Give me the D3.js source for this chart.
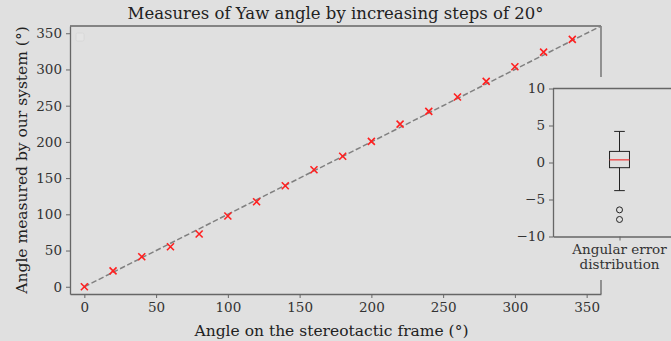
<!DOCTYPE html>
<html>
<head>
<meta charset="utf-8">
<script src="https://cdn.jsdelivr.net/npm/d3@7"></script>
<style>
  body { margin: 0; background: #e0e0e0; }
  svg { display: block; font-family: "DejaVu Serif", serif; }
</style>
</head>
<body>
<div id="chart"></div>
<script>
const width = 671;
const height = 341;

// reference angles on the frame and what our system measured
const frameAngles = [0, 20, 40, 60, 80, 100, 120, 140, 160, 180, 200, 220, 240, 260, 280, 300, 320, 340];
const measuredAngles = [0, 22, 41.5, 55.3, 72.8, 97.7, 117.4, 139.5, 161.6, 180.1, 200.8, 224.5, 242.2, 262, 283.6, 303.8, 324, 341.6];
const idealLine = [0, 360];
const xTicks = [0, 50, 100, 150, 200, 250, 300, 350];
const yTicks = [0, 50, 100, 150, 200, 250, 300, 350];

// boxplot of the angular error
const errWhiskers = [-3.8, 4.2];
const errBox = [-0.7, 1.5];
const errMedian = 0.36;
const errOutliers = [-6.4, -7.7];
const errTicks = [-10, -5, 0, 5, 10];

const svg = d3.select("#chart")
  .append("svg")
  .attr("width", width)
  .attr("height", height);

svg.append("rect").attr("width", width).attr("height", height).attr("fill", "#e0e0e0");

const x = d3.scaleLinear().domain([-10, 360]).range([70, 601]);
const y = d3.scaleLinear().domain([-10, 360]).range([294, 26]);

const spine = "#666";
const txt = "#333";

// main axes
const xAxis = svg.append("g")
  .attr("transform", `translate(0,${y.range()[0]})`)
  .call(d3.axisBottom(x).tickValues(xTicks).tickSize(4).tickPadding(4).tickSizeOuter(0));
const yAxis = svg.append("g")
  .attr("transform", `translate(${x.range()[0]},0)`)
  .call(d3.axisLeft(y).tickValues(yTicks).tickSize(4).tickPadding(4).tickSizeOuter(0));

[xAxis, yAxis].forEach(a => {
  a.select(".domain").attr("stroke", spine).attr("stroke-width", 1.3);
  a.selectAll(".tick line").attr("stroke", spine);
  a.selectAll(".tick text").attr("fill", txt).style("font-size", "13.5px").style("font-family", "DejaVu Serif, serif");
});

// top and right spines
svg.append("line")
  .attr("x1", x(-10)).attr("x2", x(360)).attr("y1", y(360)).attr("y2", y(360))
  .attr("stroke", spine).attr("stroke-width", 1.3);
svg.append("line")
  .attr("x1", x(360)).attr("x2", x(360)).attr("y1", y(-10)).attr("y2", y(360))
  .attr("stroke", spine).attr("stroke-width", 1.3);

// empty legend box
svg.append("rect")
  .attr("x", 76).attr("y", 33).attr("width", 8).attr("height", 8).attr("rx", 1.5)
  .attr("fill", "#e4e4e4").attr("stroke", "#d6d6d6").attr("stroke-width", 0.8);

// ideal line
svg.append("line")
  .attr("x1", x(idealLine[0])).attr("y1", y(idealLine[0]))
  .attr("x2", x(idealLine[1])).attr("y2", y(idealLine[1]))
  .attr("stroke", "#808080").attr("stroke-width", 1.5)
  .attr("stroke-dasharray", "5.5,2.5");

// measured points as x markers
const s = 3.5;
svg.append("g")
  .selectAll("path")
  .data(frameAngles.map((a, i) => [a, measuredAngles[i]]))
  .join("path")
  .attr("d", d => {
    const px = x(d[0]), py = y(d[1]);
    return `M${px - s},${py - s}L${px + s},${py + s}M${px - s},${py + s}L${px + s},${py - s}`;
  })
  .attr("stroke", "#ff2020").attr("stroke-width", 1.6).attr("fill", "none");

// titles
svg.append("text")
  .attr("x", (x.range()[0] + x.range()[1]) / 2).attr("y", 18.5)
  .attr("text-anchor", "middle").attr("fill", "#222")
  .style("font-size", "16.5px")
  .text("Measures of Yaw angle by increasing steps of 20°");

svg.append("text")
  .attr("x", (x.range()[0] + x.range()[1]) / 2 - 4).attr("y", 335.5)
  .attr("text-anchor", "middle").attr("fill", "#222")
  .style("font-size", "15.5px")
  .text("Angle on the stereotactic frame (°)");

svg.append("text")
  .attr("transform", `translate(27,${(y.range()[0] + y.range()[1]) / 2}) rotate(-90)`)
  .attr("text-anchor", "middle").attr("fill", "#222")
  .style("font-size", "15.5px")
  .text("Angle measured by our system (°)");

// inset panel covering part of the main axes
svg.append("rect")
  .attr("x", 516).attr("y", 77).attr("width", width - 516).attr("height", 203)
  .attr("fill", "#e0e0e0");

const ix = d3.scaleLinear().domain([0.5, 1.5]).range([553, 686]);
const iy = d3.scaleLinear().domain([-10, 10]).range([236.5, 88.5]);

const inset = svg.append("g");
const iyAxis = inset.append("g")
  .attr("transform", `translate(${ix.range()[0]},0)`)
  .call(d3.axisLeft(iy).tickValues(errTicks).tickFormat(d => d < 0 ? "\u2212" + Math.abs(d) : d)
    .tickSize(4).tickPadding(4).tickSizeOuter(0));
const ixAxis = inset.append("g")
  .attr("transform", `translate(0,${iy.range()[0]})`)
  .call(d3.axisBottom(ix).tickValues([1]).tickFormat("").tickSize(4).tickSizeOuter(0));
[iyAxis, ixAxis].forEach(a => {
  a.select(".domain").attr("stroke", spine).attr("stroke-width", 1.3);
  a.selectAll(".tick line").attr("stroke", spine);
  a.selectAll(".tick text").attr("fill", txt).style("font-size", "13.5px").style("font-family", "DejaVu Serif, serif");
});
inset.append("line")
  .attr("x1", ix.range()[0]).attr("x2", width).attr("y1", iy(10)).attr("y2", iy(10))
  .attr("stroke", spine).attr("stroke-width", 1.3);

const xlabel = inset.append("text")
  .attr("x", ix(1)).attr("text-anchor", "middle").attr("fill", txt)
  .style("font-size", "13.5px");
xlabel.append("tspan").attr("x", ix(1)).attr("y", 253.5).text("Angular error");
xlabel.append("tspan").attr("x", ix(1)).attr("y", 268.5).text("distribution");

// box and whiskers
const cx = ix(1);
const boxW = ix(1.075) - ix(1);
const capW = ix(1.04) - ix(1);
const boxColor = "#222";
inset.append("line")
  .attr("x1", cx).attr("x2", cx).attr("y1", iy(errWhiskers[1])).attr("y2", iy(errBox[1]))
  .attr("stroke", boxColor);
inset.append("line")
  .attr("x1", cx).attr("x2", cx).attr("y1", iy(errBox[0])).attr("y2", iy(errWhiskers[0]))
  .attr("stroke", boxColor);
errWhiskers.forEach(w => {
  inset.append("line")
    .attr("x1", cx - capW).attr("x2", cx + capW).attr("y1", iy(w)).attr("y2", iy(w))
    .attr("stroke", boxColor);
});
inset.append("rect")
  .attr("x", cx - boxW).attr("width", 2 * boxW)
  .attr("y", iy(errBox[1])).attr("height", iy(errBox[0]) - iy(errBox[1]))
  .attr("fill", "none").attr("stroke", boxColor);
inset.append("line")
  .attr("x1", cx - boxW).attr("x2", cx + boxW).attr("y1", iy(errMedian)).attr("y2", iy(errMedian))
  .attr("stroke", "#f04040").attr("stroke-width", 1.3);
inset.selectAll("circle.out")
  .data(errOutliers)
  .join("circle")
  .attr("class", "out")
  .attr("cx", cx).attr("cy", d => iy(d)).attr("r", 3)
  .attr("fill", "none").attr("stroke", boxColor);
</script>
</body>
</html>
